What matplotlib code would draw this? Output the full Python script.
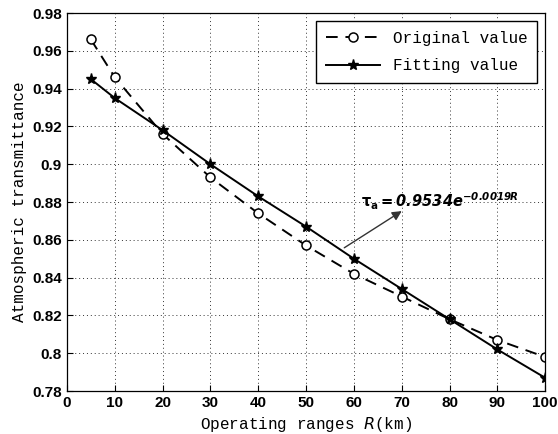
import matplotlib
matplotlib.use("Agg")
import matplotlib.pyplot as plt

x = [5, 10, 20, 30, 40, 50, 60, 70, 80, 90, 100]
original = [0.966, 0.946, 0.916, 0.893, 0.874, 0.857, 0.842, 0.830, 0.818, 0.807, 0.798]
fitting = [0.945, 0.935, 0.918, 0.900, 0.883, 0.867, 0.850, 0.834, 0.818, 0.802, 0.787]
xticks = [0, 10, 20, 30, 40, 50, 60, 70, 80, 90, 100]
yticks = [0.78, 0.8, 0.82, 0.84, 0.86, 0.88, 0.9, 0.92, 0.94, 0.96, 0.98]
yticklabels = ["0.78", "0.8", "0.82", "0.84", "0.86", "0.88", "0.9", "0.92", "0.94", "0.96", "0.98"]

fig = plt.figure(figsize=(5.58, 4.34), dpi=100)
ax = fig.add_axes([0.120, 0.099, 0.857, 0.871])

ax.plot(x, original, color="black", linestyle=(0, (6, 4)), linewidth=1.4,
        marker="o", markersize=6.5, markerfacecolor="white", markeredgecolor="black",
        markeredgewidth=1.1, label="Original value")
ax.plot(x, fitting, color="black", linestyle="-", linewidth=1.4,
        marker="*", markersize=8, markerfacecolor="black", markeredgecolor="black",
        label="Fitting value")

ax.set_xlim(0, 100)
ax.set_ylim(0.78, 0.98)
ax.set_xticks(xticks)
ax.set_yticks(yticks)
ax.set_yticklabels(yticklabels)
ax.tick_params(direction="in", length=4, labelsize=11, width=0.8)
for lab in ax.get_xticklabels() + ax.get_yticklabels():
    lab.set_fontweight("bold")
    lab.set_family("Liberation Sans")
ax.grid(True, linestyle=(0, (1, 3)), color="black", linewidth=0.7, alpha=0.8)

mono = "Liberation Mono"
ax.set_xlabel("Operating ranges $\\mathit{R}$(km)", family=mono, fontsize=11.5, labelpad=4)
ax.set_ylabel("Atmospheric transmittance", family=mono, fontsize=11.5, labelpad=4)

ax.annotate("", xy=(70.5, 0.876), xytext=(57.5, 0.855),
            arrowprops=dict(arrowstyle="-|>", color="#333333", lw=1.0, mutation_scale=14))
ax.text(61.5, 0.877, r"$\mathbf{\tau_a}\mathbfit{=0.9534e}^{\mathbfit{-0.0019R}}$", fontsize=10.5)

leg = ax.legend(loc="upper right", prop={"family": mono, "size": 11.5},
                fancybox=False, edgecolor="black", framealpha=1, handlelength=3.4,
                borderpad=0.6, labelspacing=0.8)
leg.get_frame().set_linewidth(1.0)

for s in ax.spines.values():
    s.set_linewidth(0.9)

fig.savefig("out.png", dpi=100)
